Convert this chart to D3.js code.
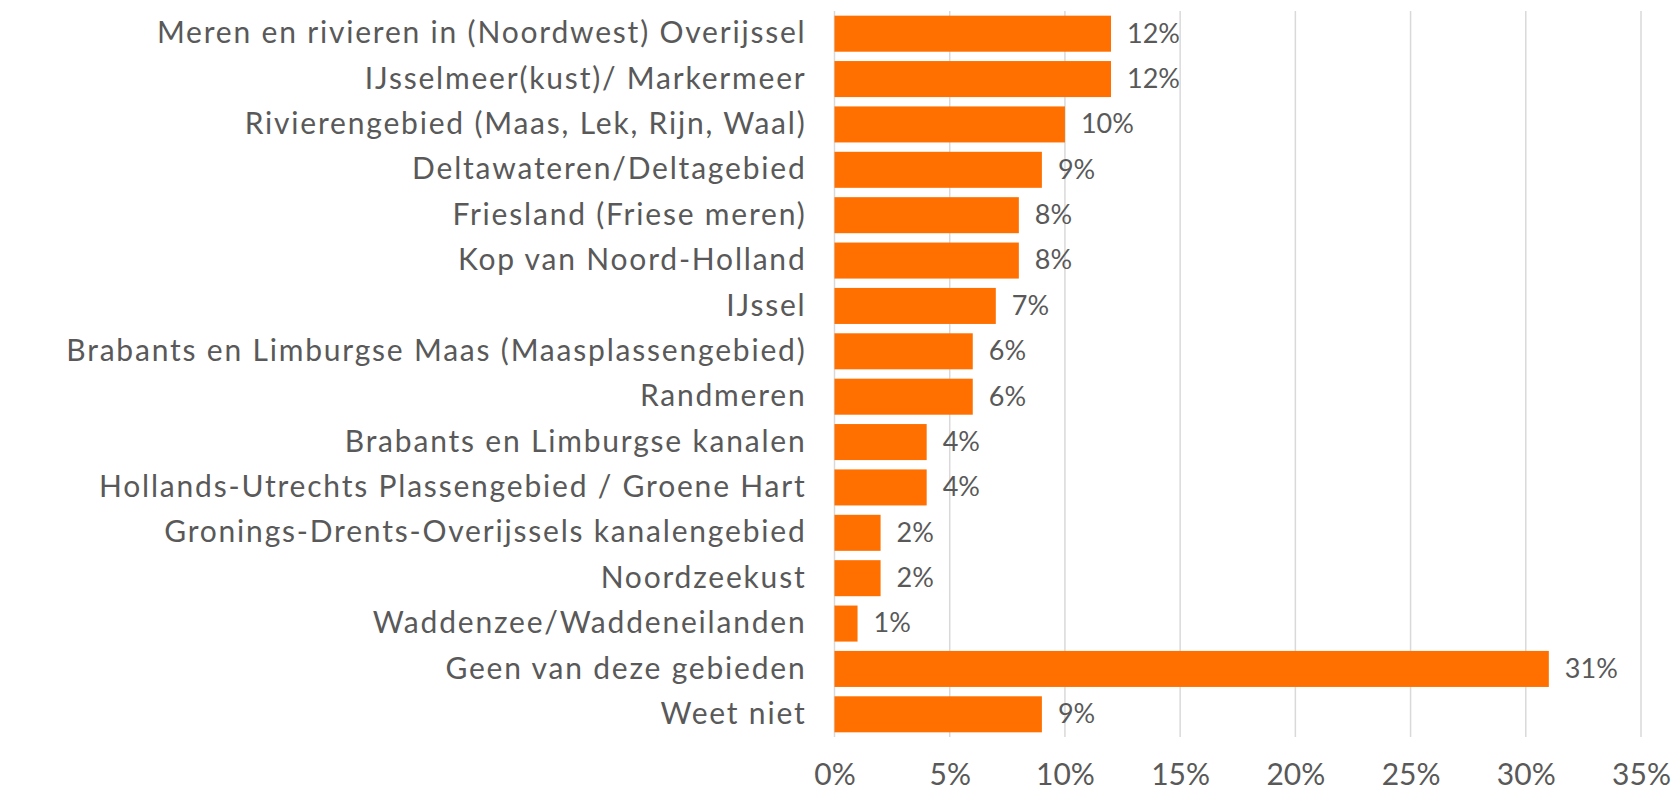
<!DOCTYPE html>
<html><head><meta charset="utf-8">
<script src="https://cdn.jsdelivr.net/npm/d3@7"></script>
<style>
html,body{margin:0;padding:0;background:#fff;}
svg{display:block;}
text{font-family:"Century Gothic","Lato","Open Sans",sans-serif;fill:#595959;}
</style></head>
<body>
<svg id="chart" width="1676" height="792"></svg>
<script>
const categories = [
  "Meren en rivieren in (Noordwest) Overijssel",
  "IJsselmeer(kust)/ Markermeer",
  "Rivierengebied (Maas, Lek, Rijn, Waal)",
  "Deltawateren/Deltagebied",
  "Friesland (Friese meren)",
  "Kop van Noord-Holland",
  "IJssel",
  "Brabants en Limburgse Maas (Maasplassengebied)",
  "Randmeren",
  "Brabants en Limburgse kanalen",
  "Hollands-Utrechts Plassengebied / Groene Hart",
  "Gronings-Drents-Overijssels kanalengebied",
  "Noordzeekust",
  "Waddenzee/Waddeneilanden",
  "Geen van deze gebieden",
  "Weet niet"
];
const values = [0.12,0.12,0.10,0.09,0.08,0.08,0.07,0.06,0.06,0.04,0.04,0.02,0.02,0.01,0.31,0.09];
const xTicks = [0,0.05,0.10,0.15,0.20,0.25,0.30,0.35];

(function(){
const svg = d3.select("#chart");
const pl = 834.5, pr = 1641, pt = 11, pb = 737;

const x = d3.scaleLinear().domain([0,0.35]).range([pl,pr]);
const y = d3.scaleBand().domain(categories).range([pt,pb]).paddingInner(0.206).paddingOuter(0.103);

svg.append("g").selectAll("line").data(xTicks).join("line")
  .attr("x1",d=>x(d)).attr("x2",d=>x(d))
  .attr("y1",pt).attr("y2",pb)
  .attr("stroke","#d9d9d9").attr("stroke-width",1.5);

const data = categories.map((c,i)=>({c,v:values[i]}));
svg.append("g").selectAll("rect").data(data).join("rect")
  .attr("x",x(0)).attr("y",d=>y(d.c))
  .attr("width",d=>x(d.v)-x(0)).attr("height",y.bandwidth())
  .attr("fill","#ff7000");

svg.append("g").selectAll("text").data(data).join("text")
  .attr("x",d=>x(d.v)+16).attr("y",d=>y(d.c)+y.bandwidth()/2+2)
  .attr("dominant-baseline","middle")
  .style("font-size","27px")
  .text(d=>d3.format(".0%")(d.v));

const yAxis = d3.axisLeft(y).tickSize(0).tickPadding(28);
const gy = svg.append("g").attr("transform",`translate(${pl},0)`).call(yAxis);
gy.select(".domain").remove();
gy.selectAll("text").style("font-size","30px").style("letter-spacing","1.8px").attr("fill","#595959");

const xAxis = d3.axisBottom(x).tickValues(xTicks).tickSize(0).tickPadding(27).tickFormat(d3.format(".0%"));
const gx = svg.append("g").attr("transform",`translate(0,${pb})`).call(xAxis);
gx.select(".domain").remove();
gx.selectAll("text").style("font-size","30px").attr("fill","#595959");
})();
</script>
</body></html>
